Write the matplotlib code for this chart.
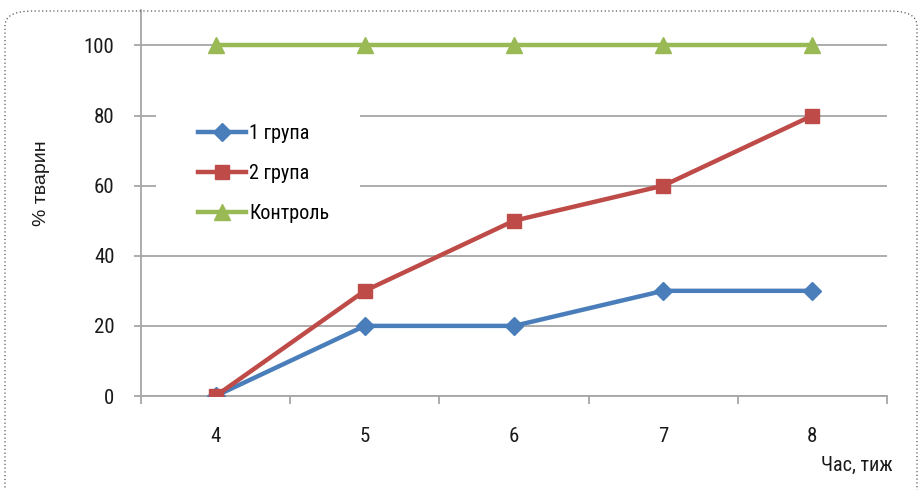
import matplotlib
matplotlib.use("Agg")
import matplotlib.pyplot as plt
from matplotlib.patches import FancyBboxPatch, Rectangle

weeks = [4, 5, 6, 7, 8]
group1 = [0, 20, 20, 30, 30]
group2 = [0, 30, 50, 60, 80]
control = [100, 100, 100, 100, 100]
yticks = [0, 20, 40, 60, 80, 100]

BLUE = "#4A7EBB"
RED = "#BE4B48"
GREEN = "#98B954"
GRID = "#A6A6A6"
NARROW = ["Roboto Condensed", "DejaVu Sans"]

fig = plt.figure(figsize=(9.2, 4.9), dpi=100)
W, H = 920, 490

# dotted rounded frame round the whole chart
frame = FancyBboxPatch((5 / W, -20 / H), 912 / W, 499 / H,
                       boxstyle="round,pad=0,rounding_size=0.03",
                       transform=fig.transFigure, fc="none", ec="#555555",
                       lw=0.9, ls=(0, (1, 2)), clip_on=False, zorder=0)
fig.patches.append(frame)

ax = fig.add_axes([141 / W, 1 - 396 / H, 746 / W, 385.6 / H])
ax.set_facecolor("none")

ax.plot(weeks, group1, color=BLUE, lw=3.2, marker="D", ms=9.5, label="1 група", zorder=4)
ax.plot(weeks, group2, color=RED, lw=3.2, marker="s", ms=10.5, label="2 група", zorder=5)
ax.plot(weeks, control, color=GREEN, lw=3.2, marker="^", ms=12, label="Контроль", zorder=3)

ax.set_xlim(3.5, 8.5)
ax.set_ylim(0, 110)
ax.set_xticks(weeks)
ax.set_yticks(yticks)
ax.set_xticks([3.5 + i for i in range(6)], minor=True)
ax.yaxis.grid(True, color=GRID, lw=1.3)
ax.set_axisbelow(True)

for s in ("top", "right"):
    ax.spines[s].set_visible(False)
for s in ("left", "bottom"):
    ax.spines[s].set_color(GRID)
    ax.spines[s].set_linewidth(1.3)

ax.tick_params(axis="x", which="major", length=0, pad=22)
ax.tick_params(axis="x", which="minor", length=6, color=GRID, width=1.3)
ax.tick_params(axis="y", length=5, color=GRID, width=1.3, pad=14)
for lab in ax.get_xticklabels() + ax.get_yticklabels():
    lab.set_family(NARROW)
    lab.set_fontsize(15)
    lab.set_color("#1a1a1a")

fig.text(42 / W, 1 - 183 / H, "% тварин", rotation=90, ha="center", va="center",
         fontsize=14, family=["Liberation Sans", "DejaVu Sans"], color="#1a1a1a")
fig.text(857 / W, 1 - 465 / H, "Час, тиж", ha="center", va="center",
         fontsize=14.5, family=NARROW, color="#1a1a1a")

# white legend area hides the gridlines behind it
ax.add_patch(Rectangle((156 / W, 1 - 236 / H), 204 / W, 134 / H,
                       transform=fig.transFigure, fc="white", ec="none",
                       zorder=1, clip_on=False))

leg = ax.legend(loc="upper left", bbox_to_anchor=(182 / W, 1 - 108 / H),
                bbox_transform=fig.transFigure, frameon=False,
                prop={"family": NARROW, "size": 14.5}, handlelength=2.4,
                handletextpad=0.15, labelspacing=1.05, borderpad=0.3)

fig.savefig("out.png", dpi=100, facecolor="white")
